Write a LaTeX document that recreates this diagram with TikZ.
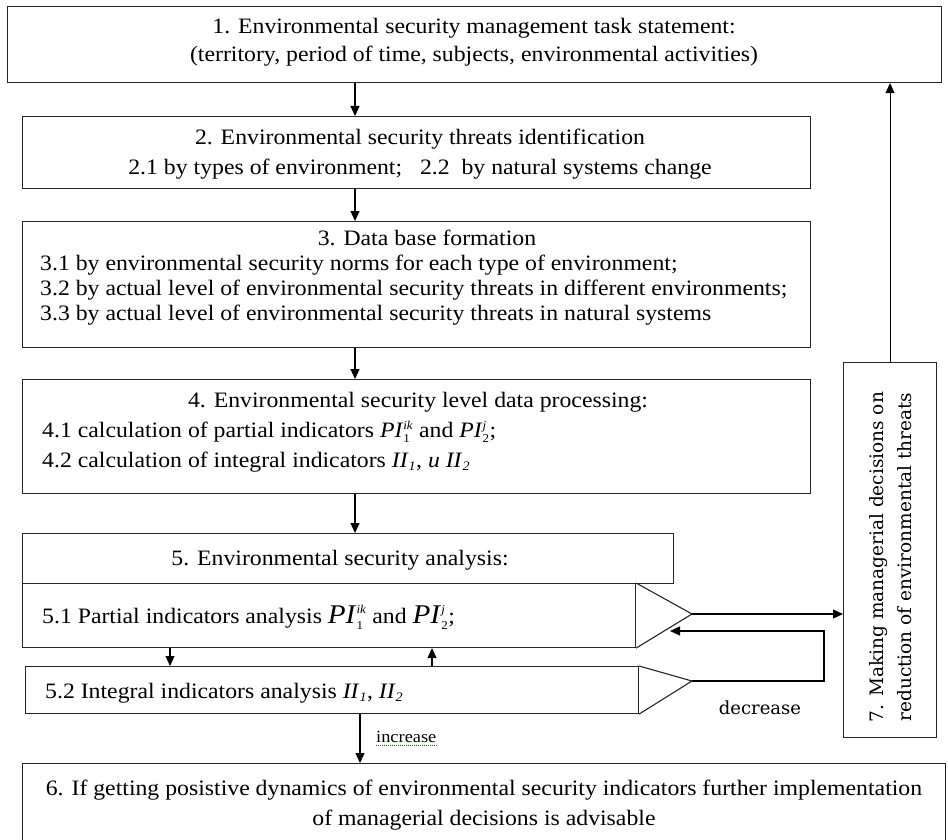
\documentclass[tikz,border=0pt]{standalone}
\usepackage{fontspec}
\setmainfont{Liberation Serif}[FakeStretch=1.08]
\newfontfamily\wideserif{DejaVu Serif}
\usetikzlibrary{arrows.meta}

\newcommand{\pind}[3]{\textit{#1}$_{\hbox{\fontsize{12}{12}\selectfont #2}}^{\hbox{\fontsize{12}{12}\selectfont\itshape #3}}$}
\newcommand{\iind}[2]{\textit{#1}$_{\hbox{\fontsize{13}{13}\selectfont\itshape #2}}$}

\begin{document}
\begin{tikzpicture}[x=1pt,y=-1pt,
    box/.style={draw=black!85,line width=1.1pt,anchor=north west,inner sep=0pt},
    edge/.style={draw=black!85,line width=1.1pt},
    txt/.style={anchor=base,inner sep=0pt,font=\fontsize{22}{24}\selectfont},
    arr/.style={draw=black,line width=1.1pt,-{Triangle[length=10pt,width=9pt]}}]
    \clip (0,0) rectangle (948,840);
    % blocks
    \node[box,minimum width=934pt,minimum height=76pt] (b1) at (7,6) {};
    \node[box,minimum width=788pt,minimum height=72pt] (b2) at (22,116) {};
    \node[box,minimum width=788pt,minimum height=126pt] (b3) at (22,221) {};
    \node[box,minimum width=788pt,minimum height=114pt] (b4) at (22,379) {};
    \node[box,minimum width=651pt,minimum height=50pt] (b5) at (22,533) {};
    \node[box,minimum width=613pt,minimum height=64pt] (b51) at (22,583) {};
    \node[box,minimum width=613pt,minimum height=47pt] (b52) at (25,666) {};
    \node[box,minimum width=923pt,minimum height=90pt] (b6) at (22,763) {}; % cut by the page
    \node[box,minimum width=93pt,minimum height=375pt] (b7) at (843,362) {};
    % comparators
    \coordinate (p51) at (692,614);
    \coordinate (p52) at (692,681);
    \draw[edge] (b51.north east) -- (p51) -- (b51.south east);
    \draw[edge] (b52.north east) -- (p52) -- (b52.south east);
    % texts
    \node[txt] (l1a) at (474,34) {1. Environmental security management task statement:};
    \node[txt] (l1b) at (474,62) {(territory, period of time, subjects, environmental activities)};
    \node[txt] (l2a) at (420,145) {2. Environmental security threats identification};
    \node[txt] (l2b) at (420,175) {2.1 by types of environment;\ \ \ 2.2\ \ by natural systems change};
    \node[txt] (l3) at (427,245) {3. Data base formation};
    \node[txt,anchor=base west] (l31) at (40,270) {3.1 by environmental security norms for each type of environment;};
    \node[txt,anchor=base west] (l32) at (40,295) {3.2 by actual level of environmental security threats in different environments;};
    \node[txt,anchor=base west] (l33) at (40,320) {3.3 by actual level of environmental security threats in natural systems};
    \node[txt] (l4) at (418,407) {4. Environmental security level data processing:};
    \node[txt,anchor=base west] (l41) at (42,437) {4.1 calculation of partial indicators \pind{PI}{1}{ik} and \pind{PI}{2}{j};};
    \node[txt,anchor=base west] (l42) at (42,467) {4.2 calculation of integral indicators \iind{II}{1}, \textit{u} \iind{II}{2}};
    \node[txt] (l5) at (340,565) {5. Environmental security analysis:};
    \node[txt,anchor=base west] (l51) at (42,623) {5.1 Partial indicators analysis {\fontsize{27}{27}\selectfont\pind{PI}{1}{ik}} and {\fontsize{27}{27}\selectfont\pind{PI}{2}{j}};};
    \node[txt,anchor=base west] (l52) at (45,698) {5.2 Integral indicators analysis \iind{II}{1}, \iind{II}{2}};
    \node[txt] (l6a) at (484,795) {6. If getting posistive dynamics of environmental security indicators further implementation};
    \node[txt] (l6b) at (484,825) {of managerial decisions is advisable};
    \node[rotate=90,align=center,inner sep=0pt,font=\wideserif\fontsize{18.5}{28}\selectfont] (l7) at (891,557) {7. Making managerial decisions on\\reduction of environmental threats};
    \node[anchor=base,inner sep=0pt,font=\wideserif\fontsize{18}{18}\selectfont] (dec) at (760,714) {decrease};
    \node[anchor=base west,inner sep=0pt,font=\fontsize{17}{17}\selectfont] (inc) at (376,742) {increase};
    \draw[green!55!black,line width=1pt,dash pattern=on 1pt off 1pt] ([yshift=-3pt]inc.south west) -- ([yshift=-3pt]inc.south east);
    % arrows
    \coordinate (ax) at (355,0);
    \coordinate (dx) at (170,0);
    \coordinate (ux) at (432,0);
    \coordinate (ix) at (360,0);
    \coordinate (rx) at (824,0);
    \coordinate (rt) at (670,631);
    \draw[arr] (b1.south -| ax) -- (b2.north -| ax);
    \draw[arr] (b2.south -| ax) -- (b3.north -| ax);
    \draw[arr] (b3.south -| ax) -- (b4.north -| ax);
    \draw[arr] (b4.south -| ax) -- (b5.north -| ax);
    \draw[arr] (b51.south -| dx) -- (b52.north -| dx);
    \draw[arr] (b52.north -| ux) -- (b51.south -| ux);
    \draw[arr] (b52.south -| ix) -- (b6.north -| ix);
    \draw[arr] (p51) -- (p51 -| b7.west);
    \draw[arr] (p52) -- (p52 -| rx) |- (rt); % decrease loop
    \draw[arr] (b7.north) -- (b7.north |- b1.south);
\end{tikzpicture}
\end{document}
